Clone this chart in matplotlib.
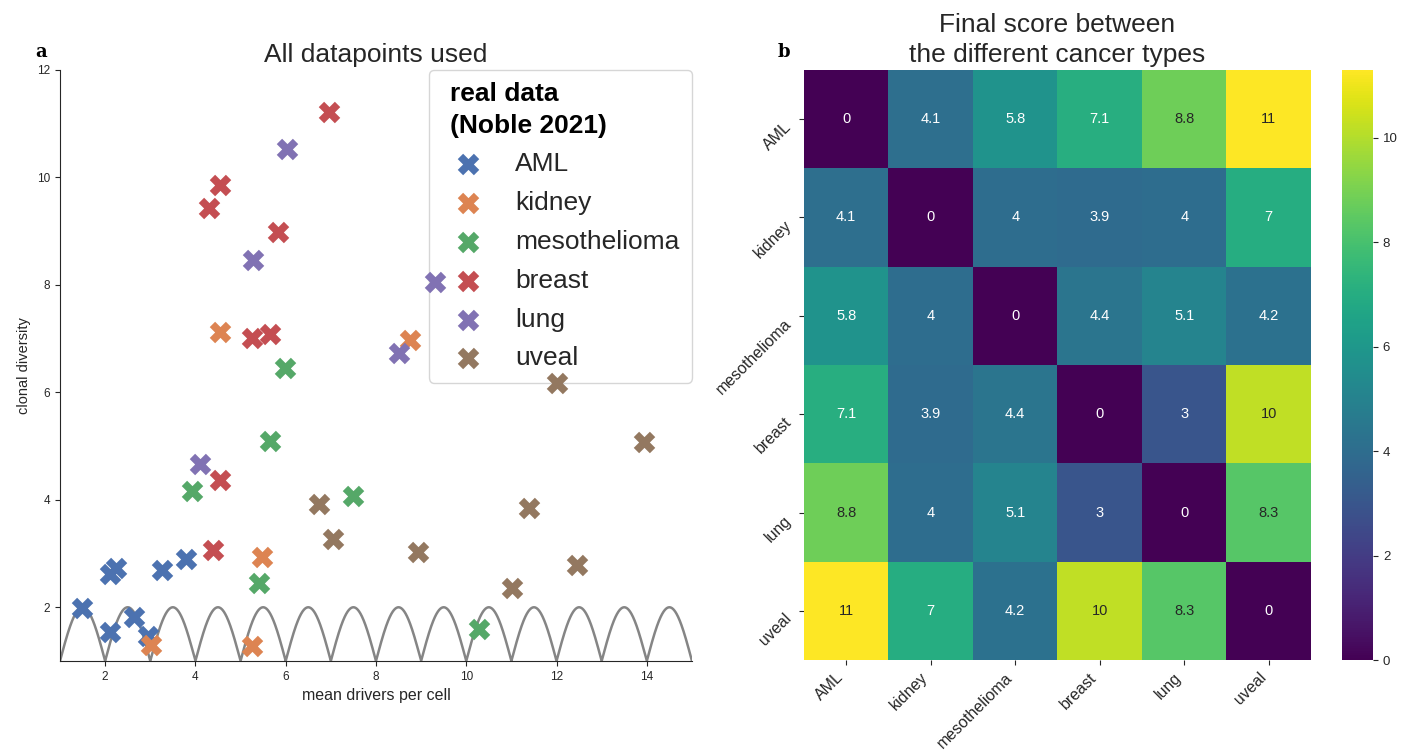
import numpy as np
import matplotlib
matplotlib.use("Agg")
import matplotlib.pyplot as plt
import seaborn as sns

# ---------------------------------------------------------------- data
cancer_types = ["AML", "kidney", "mesothelioma", "breast", "lung", "uveal"]

aml_x = [1.49, 2.10, 2.24, 2.10, 2.65, 2.95, 3.26, 3.80]
aml_y = [1.98, 2.61, 2.74, 1.54, 1.82, 1.46, 2.69, 2.89]

kidney_x = [4.54, 8.75, 3.01, 5.47, 5.25]
kidney_y = [7.13, 6.98, 1.29, 2.93, 1.28]

meso_x = [5.98, 5.65, 3.92, 7.48, 5.40, 10.29]
meso_y = [6.46, 5.09, 4.16, 4.08, 2.46, 1.59]

breast_x = [6.97, 4.54, 4.30, 5.82, 5.25, 5.65, 4.54, 4.38]
breast_y = [11.22, 9.86, 9.43, 8.99, 7.02, 7.09, 4.36, 3.06]

lung_x = [6.02, 5.27, 9.30, 8.52, 4.10]
lung_y = [10.53, 8.47, 8.06, 6.74, 4.66]

uveal_x = [6.73, 7.04, 8.94, 12.02, 13.94, 11.40, 12.46, 11.02]
uveal_y = [3.93, 3.28, 3.02, 6.18, 5.07, 3.84, 2.78, 2.35]

# pairwise final scores between cancer types (symmetric)
scores_aml = [0.0, 4.1, 5.8, 7.1, 8.8, 11.3]
scores_kidney = [4.1, 0.0, 4.0, 3.9, 4.0, 7.0]
scores_meso = [5.8, 4.0, 0.0, 4.4, 5.1, 4.2]
scores_breast = [7.1, 3.9, 4.4, 0.0, 3.0, 10.2]
scores_lung = [8.8, 4.0, 5.1, 3.0, 0.0, 8.3]
scores_uveal = [11.3, 7.0, 4.2, 10.2, 8.3, 0.0]

x_ticks = [2, 4, 6, 8, 10, 12, 14]
y_ticks = [2, 4, 6, 8, 10, 12]
cbar_ticks = [0, 2, 4, 6, 8, 10]

# ---------------------------------------------------------------- style
sns.set_style("ticks")
plt.rcParams["font.family"] = ["Liberation Sans", "DejaVu Sans"]
TXT = "0.15"

palette = sns.color_palette("deep", 6)
groups = [
    (aml_x, aml_y), (kidney_x, kidney_y), (meso_x, meso_y),
    (breast_x, breast_y), (lung_x, lung_y), (uveal_x, uveal_y),
]

fig = plt.figure(figsize=(14.05, 7.55), dpi=100)

# ---------------------------------------------------------------- panel a
ax = fig.add_axes([0.0427, 0.1245, 0.4498, 0.7828])

# periodic guide curve drawn underneath the points
wave_x = np.linspace(1, 15, 3000)
wave_y = 1 + np.abs(np.sin(np.pi * wave_x))
ax.plot(wave_x, wave_y, color="#858585", lw=1.8, zorder=1)

for (gx, gy), name, col in zip(groups, cancer_types, palette):
    ax.scatter(gx, gy, s=240, marker="X", color=col, linewidths=0,
               label=name, zorder=3)

ax.set_xlim(1, 15)
ax.set_ylim(1, 12)
ax.set_xticks(x_ticks)
ax.set_yticks(y_ticks)
ax.tick_params(labelsize=8.5, colors=TXT)
ax.set_xlabel("mean drivers per cell", fontsize=11.5, color=TXT)
ax.set_ylabel("clonal diversity", fontsize=10.5, color=TXT)
ax.set_title("All datapoints used", fontsize=19, color=TXT)
sns.despine(ax=ax)

leg = ax.legend(title="real data\n(Noble 2021)", loc="upper right",
                borderaxespad=0, fontsize=19, labelspacing=0.56,
                borderpad=0.47,
                title_fontproperties={"weight": "bold", "size": 19},
                alignment="left")
leg.set_zorder(2)
for t in leg.get_texts():
    t.set_color(TXT)
leg_title = leg.get_title()
leg_title.set_color("black")
leg_title.set_linespacing(1.38)
leg_title.set_x(9)

# ---------------------------------------------------------------- panel b
score_matrix = np.array([scores_aml, scores_kidney, scores_meso,
                         scores_breast, scores_lung, scores_uveal])

hax = fig.add_axes([0.5722, 0.1258, 0.3609, 0.7815])
cax = fig.add_axes([0.9552, 0.1258, 0.0221, 0.7815])

sns.heatmap(score_matrix, ax=hax, cbar_ax=cax, cmap="viridis",
            vmin=0, vmax=score_matrix.max(), annot=True, fmt=".2g",
            annot_kws={"size": 10.5},
            xticklabels=cancer_types, yticklabels=cancer_types)

hax.set_title("Final score between\nthe different cancer types",
              fontsize=19, color=TXT, linespacing=1.3)
hax.tick_params(labelsize=11.5, colors=TXT)
plt.setp(hax.get_xticklabels(), rotation=45, ha="right")
plt.setp(hax.get_yticklabels(), rotation=45, va="top")

cax.set_yticks(cbar_ticks)
cax.tick_params(labelsize=9.5, colors=TXT)

# panel letters
fig.text(0.025, 0.9245, "a", fontsize=13, fontweight="bold",
         family="DejaVu Serif", color="black")
fig.text(0.5537, 0.9245, "b", fontsize=13, fontweight="bold",
         family="DejaVu Serif", color="black")

fig.savefig("out.png", dpi=100)
